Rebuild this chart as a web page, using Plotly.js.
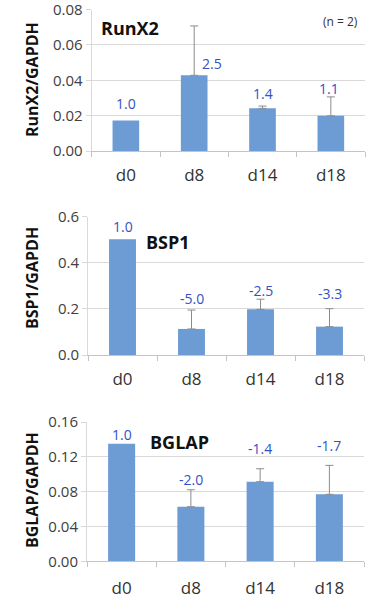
<!DOCTYPE html>
<html>
<head>
<meta charset="utf-8">
<script src="https://cdn.plot.ly/plotly-3.0.1.min.js"></script>
<style>html,body{margin:0;padding:0;background:#fff;}#chart{width:366px;height:598px;}</style>
</head>
<body>
<div id="chart"></div>
<script>
// ---- data ----
const days = ["d0", "d8", "d14", "d18"];

const runx2Values = [0.0172, 0.0428, 0.0241, 0.0199];
const runx2ErrUp  = [null, 0.0279, 0.0013, 0.0107];
const runx2Fold   = ["1.0", "2.5", "1.4", "1.1"];
const runx2Ticks  = [0, 0.02, 0.04, 0.06, 0.08];

const bsp1Values = [0.502, 0.113, 0.198, 0.123];
const bsp1ErrUp  = [null, 0.082, 0.044, 0.078];
const bsp1Fold   = ["1.0", "-5.0", "-2.5", "-3.3"];
const bsp1Ticks  = [0, 0.2, 0.4, 0.6];

const bglapValues = [0.135, 0.0627, 0.0914, 0.0769];
const bglapErrUp  = [null, 0.0195, 0.0149, 0.0333];
const bglapFold   = ["1.0", "-2.0", "-1.4", "-1.7"];
const bglapTicks  = [0, 0.04, 0.08, 0.12, 0.16];

// ---- layout helpers (pixel -> paper) ----
const W = 366, H = 598;
const px = v => v / W;
const py = v => 1 - v / H;

const FONT = "Open Sans, Liberation Sans, Arial, sans-serif";
const BAR = "#6d9bd3";
const LABEL = "#3251c6";

const panels = [
  {vals: runx2Values, err: runx2ErrUp, fold: runx2Fold, ticks: runx2Ticks, fmt: v => v.toFixed(2),
   x: [91.7, 365], y: [151, 9.5], range: [0, 0.08], ytitle: "RunX2/GAPDH", ytitleY: 80,
   name: "RunX2", nameX: 130, nameY: 28,
   labelY: [0.0267, 0.0495, 0.0323, 0.0356], labelShift: [0, 18, 0, -2]},
  {vals: bsp1Values, err: bsp1ErrUp, fold: bsp1Fold, ticks: bsp1Ticks, fmt: v => v.toFixed(1),
   x: [88, 364], y: [355, 216.7], range: [0, 0.6], ytitle: "BSP1/GAPDH", ytitleY: 278,
   name: "BSP1", nameX: 167.5, nameY: 241.7,
   labelY: [0.557, 0.243, 0.279, 0.265], labelShift: [0, 0, 0, 0]},
  {vals: bglapValues, err: bglapErrUp, fold: bglapFold, ticks: bglapTicks, fmt: v => v.toFixed(2),
   x: [87, 364], y: [561.3, 422], range: [0, 0.16], ytitle: "BGLAP/GAPDH", ytitleY: 490,
   name: "BGLAP", nameX: 179, nameY: 441.7,
   labelY: [0.1454, 0.0945, 0.1293, 0.1332], labelShift: [0, 0, 0, 0]}
];

const standoffs = [9, 9, 11];

const traces = [];
const layout = {
  width: W, height: H,
  margin: {l: 0, r: 0, t: 0, b: 0},
  paper_bgcolor: "#fff", plot_bgcolor: "#fff",
  showlegend: false,
  bargap: 0.61,
  font: {family: FONT, color: "#404040"},
  annotations: []
};

panels.forEach((p, i) => {
  const n = i === 0 ? "" : String(i + 1);
  traces.push({
    type: "bar", x: days, y: p.vals,
    xaxis: "x" + n, yaxis: "y" + n,
    marker: {color: BAR, line: {width: 0}},
    error_y: {type: "data", symmetric: false,
              array: p.err.map(v => (v == null ? NaN : v)),
              arrayminus: p.err.map(v => (v == null ? NaN : 0)),
              color: "#8c8c8c", thickness: 1, width: 4},
    hoverinfo: "none"
  });
  layout["xaxis" + n] = {
    domain: [px(p.x[0]), px(p.x[1])],
    anchor: "y" + n,
    type: "category",
    showline: true, linecolor: "#c4c4c4", linewidth: 1,
    ticks: "outside", tickson: "boundaries", ticklen: 5, tickcolor: "#c4c4c4",
    tickfont: {family: FONT, size: 17, color: "#333"},
    ticklabelstandoff: standoffs[i],
    showgrid: false, zeroline: false, fixedrange: true
  };
  layout["yaxis" + n] = {
    domain: [py(p.y[0]), py(p.y[1])],
    anchor: "x" + n,
    range: p.range,
    tickvals: p.ticks, ticktext: p.ticks.map(p.fmt),
    showgrid: true, gridcolor: "#d9d9d9", gridwidth: 1,
    showline: true, linecolor: "#d9d9d9",
    ticks: "outside", ticklen: 5, tickcolor: "#d9d9d9",
    tickfont: {family: FONT, size: 15, color: "#404040"},
    ticklabeloverflow: "allow",
    zeroline: false, fixedrange: true
  };
  // y title
  layout.annotations.push({
    xref: "paper", yref: "paper", x: px(32), y: py(p.ytitleY),
    text: "<b>" + p.ytitle + "</b>", textangle: -90, showarrow: false,
    font: {family: FONT, size: 16, color: "#111"}, xanchor: "center", yanchor: "middle"
  });
  // gene name
  layout.annotations.push({
    xref: "paper", yref: "paper", x: px(p.nameX), y: py(p.nameY),
    text: "<b>" + p.name + "</b>", showarrow: false,
    font: {family: FONT, size: 18, color: "#111"}, xanchor: "center", yanchor: "middle"
  });
  // fold-change labels
  days.forEach((d, k) => {
    layout.annotations.push({
      xref: "x" + n, yref: "y" + n, x: d, y: p.labelY[k],
      text: p.fold[k], showarrow: false, xshift: p.labelShift[k],
      font: {family: FONT, size: 14, color: LABEL}, xanchor: "center", yanchor: "middle"
    });
  });
});

layout.annotations.push({
  xref: "paper", yref: "paper", x: px(360), y: py(22),
  text: "(n = 2)", showarrow: false,
  font: {family: FONT, size: 12, color: "#333"}, xanchor: "right", yanchor: "middle"
});

Plotly.newPlot("chart", traces, layout, {staticPlot: true, displayModeBar: false});
</script>
</body>
</html>
